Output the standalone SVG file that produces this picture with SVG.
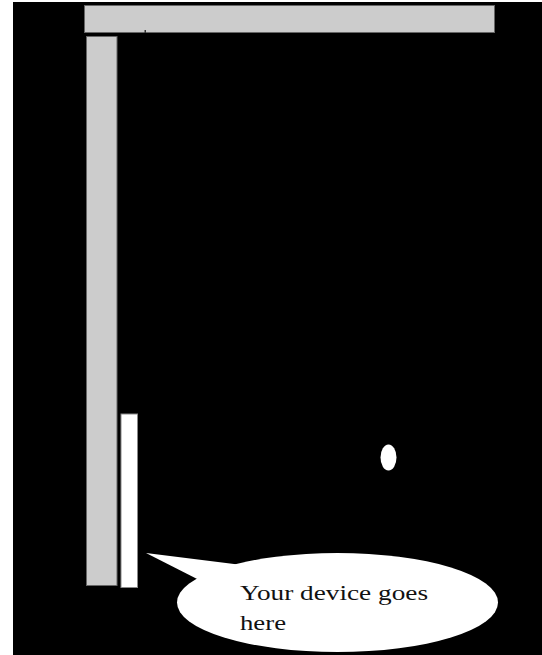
<svg xmlns="http://www.w3.org/2000/svg" width="542" height="655" viewBox="0 0 542 655">
  <style>
    .bar { fill: #cccccc; stroke: #666666; stroke-width: 1; }
    .dev { fill: #ffffff; stroke: #888888; stroke-width: 1; }
    .label { font-family: "Liberation Serif", "Times New Roman", serif; font-size: 22px; fill: #111111; }
  </style>
  <rect x="0" y="0" width="542" height="655" fill="#ffffff"/>
  <rect x="13" y="2" width="529" height="653" fill="#000000"/>
  <g id="top-bar">
    <rect class="bar" x="84.5" y="5.5" width="410" height="27"/>
    <rect x="144.5" y="30" width="1.5" height="3" fill="#333333"/>
  </g>
  <g id="left-bar">
    <rect class="bar" x="86.5" y="36.5" width="30.5" height="549"/>
  </g>
  <g id="device">
    <rect class="dev" x="121" y="414" width="16.5" height="173.5"/>
  </g>
  <g id="dot">
    <ellipse cx="388.5" cy="457.5" rx="8" ry="13" fill="#ffffff"/>
  </g>
  <g id="callout">
    <ellipse cx="337.5" cy="602.5" rx="160.5" ry="49.5" fill="#ffffff"/>
    <polygon points="146,553 250,566 207,584" fill="#ffffff"/>
    <text class="label" x="240" y="600" textLength="188" lengthAdjust="spacingAndGlyphs">Your device goes</text>
    <text class="label" x="240" y="630" textLength="46" lengthAdjust="spacingAndGlyphs">here</text>
  </g>
  <g id="connectors"></g>
</svg>
